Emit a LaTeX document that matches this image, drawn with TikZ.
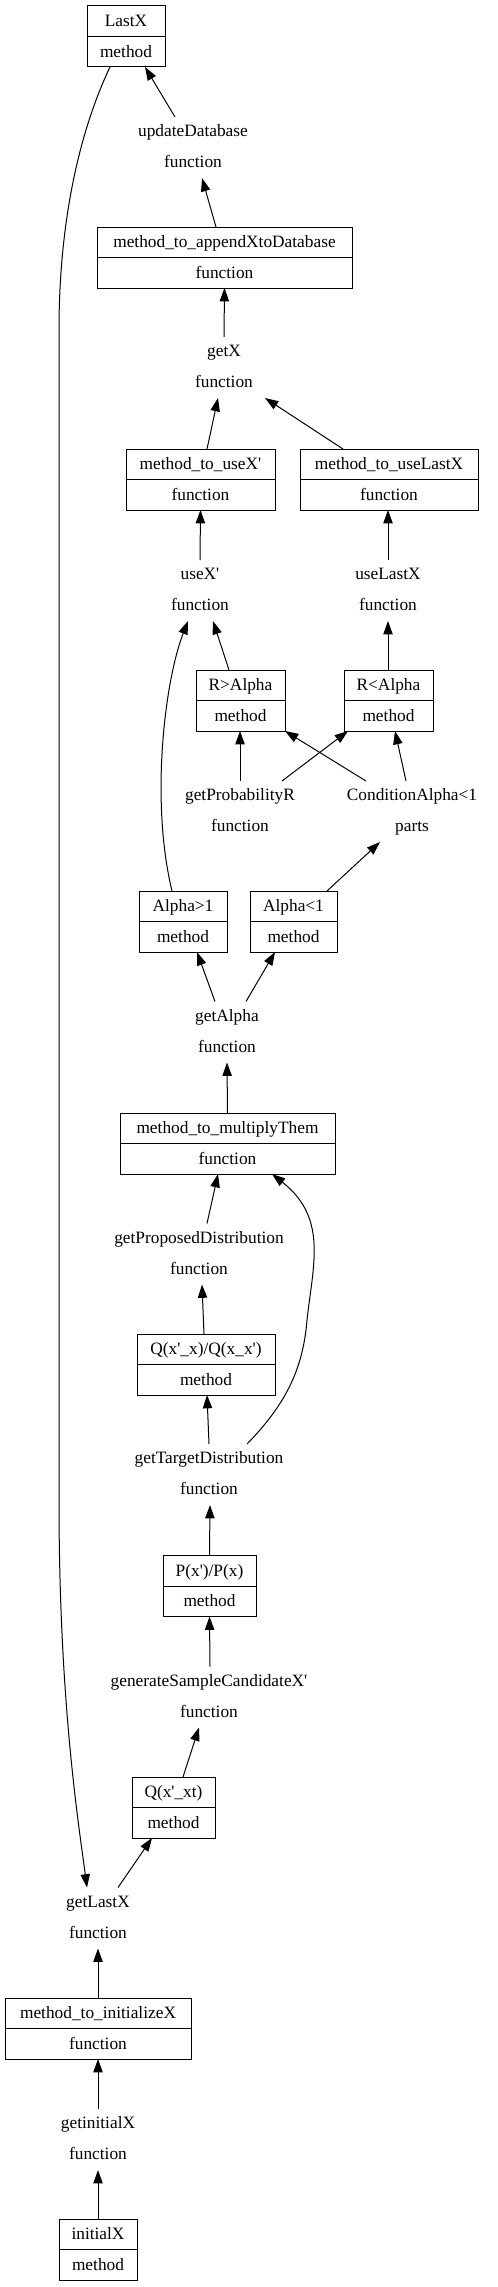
\documentclass[tikz,border=0pt]{standalone}
\usepackage{fontspec}
\setmainfont{Liberation Serif}
\usetikzlibrary{arrows.meta,calc}
\newcommand\sq{\textquotesingle}
\newcommand\recnode[6]{%
  \node[recbox, minimum width=#4*0.75pt] (#1) at (#2,#3) {};
  \draw[divline] (#1.west) -- (#1.east);
  \node[lbl] at ($(#1.center)+(0,-9.8)$) {#5};
  \node[lbl] at ($(#1.center)+(0,20.8)$) {#6};
}
\newcommand\txtnode[5]{%
  \node[txtbox] (#1) at (#2,#3) {};
  \node[lbl] at ($(#1.center)+(0,-10.6)$) {#4};
  \node[lbl] at ($(#1.center)+(0,20.3)$) {#5};
}
\newcommand\conn[4]{\draw[arr] ($(#1.north)+(#2,0)$) -- ($(#3.south)+(#4,0)$);}
\begin{document}
\begin{tikzpicture}[x=0.75pt,y=-0.75pt,
  font=\fontsize{13}{15}\selectfont,
  recbox/.style={draw, line width=0.75pt, inner sep=0pt, outer sep=0pt, minimum height=45.75pt},
  divline/.style={line width=0.75pt},
  txtbox/.style={inner sep=0pt, outer sep=0pt, minimum height=45.75pt, minimum width=20pt},
  lbl/.style={anchor=base, inner sep=0pt, outer sep=0pt},
  arr/.style={-{Triangle[length=10pt,width=7pt]}, line width=0.75pt}]
\useasboundingbox (0,0) rectangle (497,2287);
\recnode{lastx}{126}{36.5}{78}{LastX}{method}
\txtnode{ud}{193}{147.5}{updateDatabase}{function}
\recnode{append}{224.5}{257.5}{255}{method\_to\_appendXtoDatabase}{function}
\txtnode{getx}{224}{367.5}{getX}{function}
\recnode{usexp}{200.5}{479.5}{149}{method\_to\_useX\sq}{function}
\recnode{uselastbox}{389}{479.5}{178}{method\_to\_useLastX}{function}
\txtnode{usex}{200}{590.5}{useX\sq}{function}
\txtnode{uselast}{388}{590.5}{useLastX}{function}
\recnode{rgt}{240.5}{700.5}{89}{R>Alpha}{method}
\recnode{rlt}{388.5}{700.5}{89}{R<Alpha}{method}
\txtnode{gpr}{240}{811.5}{getProbabilityR}{function}
\txtnode{cond}{412}{811.5}{ConditionAlpha<1}{parts}
\recnode{agt}{183}{921.5}{88}{Alpha>1}{method}
\recnode{alt}{293.5}{921.5}{87}{Alpha<1}{method}
\txtnode{galpha}{227}{1032}{getAlpha}{function}
\recnode{mult}{227.5}{1143.5}{215}{method\_to\_multiplyThem}{function}
\txtnode{gprop}{199}{1254}{getProposedDistribution}{function}
\recnode{qq}{206}{1364.5}{138}{Q(x\sq\_x)/Q(x\_x\sq)}{method}
\txtnode{gtar}{209}{1474.5}{getTargetDistribution}{function}
\recnode{pp}{209.5}{1586}{93}{P(x\sq)/P(x)}{method}
\txtnode{gen}{209}{1697}{generateSampleCandidateX\sq}{function}
\recnode{qxt}{173.5}{1807.5}{83}{Q(x\sq\_xt)}{method}
\txtnode{glx}{98}{1918}{getLastX}{function}
\recnode{init}{98}{2028.5}{186}{method\_to\_initializeX}{function}
\txtnode{gix}{98}{2139.5}{getinitialX}{function}
\recnode{initialx}{98}{2249.5}{78}{initialX}{method}
% edges
\conn{ud}{-18}{lastx}{19}
\conn{append}{-8.5}{ud}{9}
\conn{getx}{0}{append}{0}
\conn{usexp}{6.5}{getx}{-6}
\conn{uselastbox}{-46}{getx}{41}
\conn{usex}{0}{usexp}{0}
\conn{uselast}{0}{uselastbox}{-1}
\draw[arr] ($(agt.north)+(-11,0)$) .. controls +(-22,-91) and +(-23,59) .. ($(usex.south)+(-12,0)$);
\conn{rgt}{-11.5}{usex}{13}
\conn{rlt}{-0.5}{uselast}{0}
\conn{gpr}{0}{rgt}{-0.5}
\conn{gpr}{42}{rlt}{-40.5}
\conn{cond}{-46}{rgt}{44.5}
\conn{cond}{-6}{rlt}{6.5}
\conn{alt}{33.5}{cond}{-32}
\conn{galpha}{-12}{agt}{14}
\conn{galpha}{19}{alt}{-18.5}
\conn{mult}{0}{galpha}{0}
\conn{gprop}{8}{mult}{-9.5}
\conn{qq}{-2}{gprop}{3}
\conn{gtar}{0}{qq}{1}
\draw[arr] ($(gtar.north)+(38,0)$) .. controls +(38,-39) and +(-4,50) .. ++(60,-124) .. controls +(6,-55) and +(56,44) .. ($(mult.south)+(44.5,0)$);
\conn{pp}{0}{gtar}{1}
\conn{gen}{1}{pp}{0}
\conn{qxt}{9.5}{gen}{-10}
\draw[arr] ($(lastx.south)+(-16,0)$) .. controls +(-30,63) and +(0,-110) .. ++(-51,263) -- ++(0,1170) .. controls +(0,200) and +(-9,-68) .. ($(glx.north)+(-11,0)$);
\conn{glx}{20}{qxt}{-21.5}
\conn{init}{0}{glx}{0}
\conn{gix}{0}{init}{0}
\conn{initialx}{0}{gix}{0}
\end{tikzpicture}
\end{document}
